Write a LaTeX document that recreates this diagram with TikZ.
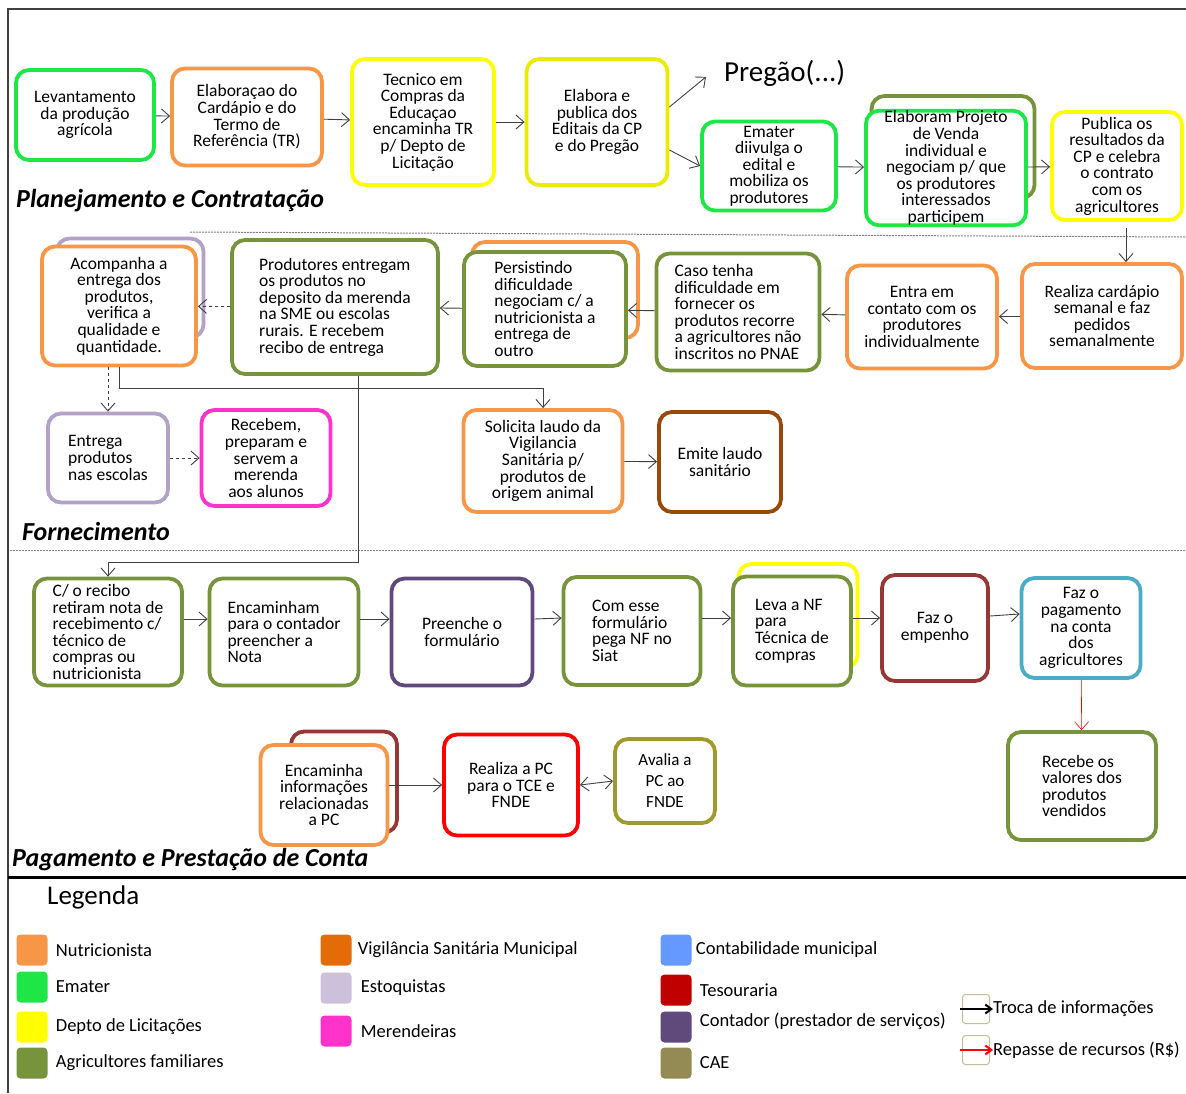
\documentclass[tikz,border=0pt]{standalone}
\usepackage{fontspec}
\setmainfont{Carlito}
\usetikzlibrary{arrows.meta,positioning}

\definecolor{nutri}{HTML}{F79646}
\definecolor{ematerg}{HTML}{1FE647}
\definecolor{licit}{HTML}{FFFF00}
\definecolor{agric}{HTML}{77933C}
\definecolor{estoq}{HTML}{B3A2C7}
\definecolor{estoqleg}{HTML}{CCC0DA}
\definecolor{merend}{HTML}{FF33CC}
\definecolor{vigleg}{HTML}{E36C09}
\definecolor{vigbox}{HTML}{984807}
\definecolor{contleg}{HTML}{6699FF}
\definecolor{contbox}{HTML}{4BACC6}
\definecolor{tesleg}{HTML}{C00000}
\definecolor{tesbox}{HTML}{953735}
\definecolor{contador}{HTML}{604A7B}
\definecolor{caeleg}{HTML}{948A54}
\definecolor{caebox}{HTML}{A09A2C}
\definecolor{pcred}{HTML}{FF0000}
\definecolor{keytan}{HTML}{C4BD97}
\definecolor{linkgray}{HTML}{404040}

\newcommand\boxtxt{\fontsize{17.5}{16.6}\selectfont}

\begin{document}
\begin{tikzpicture}[x=1pt, y=-1pt, >={Straight Barb[length=8pt,width=14pt]},
  box/.style={draw, fill=white, rounded corners=13pt, line width=3.8pt, align=center, inner sep=1pt, font=\boxtxt},
  lbox/.style={box, align=left},
  sz/.style 2 args={minimum width=#1pt, minimum height=#2pt},
  link/.style={->, line width=0.9pt, draw=linkgray},
  sep/.style={draw=gray, line width=1pt, dash pattern=on 2pt off 1pt},
  sectitle/.style={font=\fontsize{26}{28}\selectfont\bfseries\itshape, anchor=base west, inner sep=0pt},
  swatch/.style={rounded corners=4pt, minimum width=31pt, minimum height=31pt, inner sep=0pt},
  legtext/.style={font=\fontsize{18.5}{20}\selectfont, inner sep=0pt, anchor=west},
  keybox/.style={draw=keytan, line width=1pt, rounded corners=3pt, minimum width=27pt, minimum height=29pt, inner sep=0pt}]
\useasboundingbox (0,0) rectangle (1186,1093);

% frame
\draw[line width=2pt, black!75] (8,1093) -- (8,9) -- (1186,9);
\draw[line width=3pt] (8,877) -- (1186,877);
\draw[sep] (190,232) -- (1186,237);
\draw[sep] (10,550) -- (1186,550);

% Planejamento e Contratacao
\node[box, draw=ematerg, sz={138}{90}] (levant) at (85,115) {Levantamento\\da produção\\agrícola};
\node[box, draw=nutri, sz={150}{97}] (cardapio) at (247,117) {Elaboraçao do\\Cardápio e do\\Termo de\\Referência (TR)};
\node[box, draw=licit, sz={142}{126}] (tecnico) at (423,122) {Tecnico em\\Compras  da\\Educaçao\\encaminha  TR\\p/ Depto de\\Licitação};
\node[box, draw=licit!92!black, sz={141}{126}] (edital) at (597,122) {Elabora e\\publica dos\\Editais  da CP\\e do Pregão};
\node[font=\fontsize{29}{31}\selectfont, anchor=base west, inner sep=0pt] (pregao) at (724,81) {Pregão(...)};
\node[box, draw=ematerg, sz={134}{89}] (emater) at (769,166) {Emater\\diivulga o\\edital e\\mobiliza os\\produtores};
\node[box, draw=agric, sz={163}{102}] (projeto_back) at (953,147) {};
\node[box, draw=ematerg, sz={160}{109}, inner sep=0pt] (projeto) at (946,168) {Elaboram Projeto\\de Venda\\individual e\\negociam p/ que\\os produtores\\interessados\\participem};
\node[box, draw=licit, sz={130}{108}] (resultados) at (1117,166) {Publica os\\resultados da\\CP  e celebra\\o contrato\\com os\\agricultores};
\node[sectitle] (tit_plan) at (16,207) {Planejamento e Contratação};

% Fornecimento
\node[box, draw=nutri, sz={160}{104}] (cardsem) at (1102,316) {Realiza cardápio\\semanal e faz\\pedidos\\semanalmente};
\node[box, draw=nutri, sz={150}{103}] (contato) at (922,317) {Entra em\\contato com os\\produtores\\individualmente};
\node[lbox, draw=agric, sz={163}{117}] (caso) at (738,312) {Caso tenha\\dificuldade em\\fornecer os\\produtos recorre\\a agricultores não\\inscritos no PNAE};
\node[box, draw=nutri, sz={166}{96}] (persist_back) at (555,290) {};
\node[lbox, draw=agric, sz={162}{114}] (persist) at (545,309) {Persistindo\\dificuldade\\negociam  c/ a\\nutricionista a\\entrega de\\outro};
\node[lbox, draw=agric, sz={206}{134}] (produtores) at (335,307) {Produtores entregam\\os produtos no\\deposito da merenda\\na SME ou escolas\\rurais. E recebem\\recibo de entrega};
\node[box, draw=estoq, sz={147}{99}] (acomp_back) at (130,288) {};
\node[box, draw=nutri, sz={154}{119}] (acomp) at (119,306) {Acompanha a\\entrega dos\\produtos,\\verifica a\\qualidade e\\quantidade.};
\node[lbox, draw=estoq, sz={120}{89}] (entrega) at (108,458) {Entrega\\produtos\\nas escolas};
\node[box, draw=merend, sz={129}{96}] (recebem) at (266,458) {Recebem,\\preparam  e\\servem a\\merenda\\aos alunos};
\node[box, draw=nutri, sz={159}{102}] (solicita) at (543,461) {Solicita laudo da\\Vigilancia\\Sanitária p/\\produtos de\\origem animal};
\node[box, draw=vigbox, sz={122}{100}] (emite) at (720,462) {Emite laudo\\sanitário};
\node[sectitle] (tit_forn) at (22,540) {Fornecimento};

% Pagamento e Prestacao de Conta
\node[lbox, draw=agric, sz={148}{107}] (recibo) at (108,632) {C/ o recibo\\retiram nota de\\recebimento c/\\técnico de\\compras ou\\nutricionista};
\node[lbox, draw=agric, sz={149}{107}] (encam) at (284,632) {Encaminham\\para o contador\\preencher a\\Nota};
\node[box, draw=contador, sz={141}{107}] (preenche) at (462,632) {Preenche o\\formulário};
\node[lbox, draw=agric, sz={137}{108}] (comesse) at (632,631) {Com esse\\formulário\\pega NF no\\Siat};
\node[box, draw=licit, sz={119}{104}] (leva_back) at (798,616) {};
\node[lbox, draw=agric, sz={118}{109}] (leva) at (792,631) {Leva a NF\\para\\Técnica de\\compras};
\node[box, draw=tesbox, sz={106}{106}] (empenho) at (935,628) {Faz o\\empenho};
\node[box, draw=contbox, sz={119}{100}] (pagam) at (1081,628) {Faz o\\pagamento\\na conta\\dos\\agricultores};
\node[lbox, draw=agric, sz={148}{108}] (recebe) at (1082,786) {Recebe  os\\valores  dos\\produtos\\vendidos};
\node[box, draw=tesbox, sz={106}{101}] (encinfo_back) at (344,782) {};
\node[box, draw=nutri, sz={127}{100}] (encinfo) at (324,795) {Encaminha\\informações\\relacionadas\\a PC};
\node[box, draw=pcred, sz={134}{101}] (realizapc) at (511,785) {Realiza a PC\\para o TCE e\\FNDE};
\node[box, draw=caebox, sz={100}{84}, font=\fontsize{17}{21}\selectfont] (avalia) at (665,781) {Avalia a\\PC ao\\FNDE};
\node[sectitle] (tit_pag) at (12,866) {Pagamento e Prestação de Conta};

% connectors
\draw[link] (levant) -- (cardapio);
\draw[link] (cardapio) -- (tecnico);
\draw[link] (tecnico) -- (edital);
\draw[link] ([yshift=15pt]edital.east) -- ([xshift=-18pt,yshift=-4pt]pregao.west);
\draw[link] ([yshift=-28pt]edital.east) -- (emater.west);
\draw[link] (emater) -- (projeto);
\draw[link] (projeto) -- (resultados);
\draw[link] ([xshift=9pt,yshift=-6pt]resultados.south) -- ([xshift=9pt]resultados.south |- cardsem.north);
\draw[link] (cardsem) -- (contato);
\draw[link] (contato) -- (caso);
\draw[link] (caso) -- (persist);
\draw[link] (persist) -- (produtores);
\draw[link, dashed] (produtores) -- (acomp);
\draw[link, dashed] (acomp.south -| entrega.north) -- (entrega.north);
\draw[link, dashed] (entrega) -- (recebem);
\draw[link] (acomp.south) -- ++(0,21) -| (solicita.north);
\draw[link] (solicita) -- (emite);
\coordinate (bend_pag) at (358,562);
\draw[link] ([xshift=23pt]produtores.south) -- (bend_pag) -| (recibo.north);
\draw[link] ([yshift=13pt]recibo.east) -- ([yshift=13pt]encam.west);
\draw[link] ([yshift=13pt]encam.east) -- ([yshift=13pt]preenche.west);
\draw[link] ([yshift=13pt]preenche.east) -- ([yshift=13pt]comesse.west);
\draw[link] ([yshift=13pt]comesse.east) -- ([yshift=13pt]leva.west);
\draw[link] ([yshift=13pt]leva.east) -- ([yshift=10pt]empenho.west);
\draw[link] ([yshift=12pt]empenho.east) -- ([yshift=14pt]pagam.west);
\draw[link, draw=pcred, line width=0.6pt] (pagam) -- (recebe);
\draw[link] (encinfo.east |- realizapc) -- (realizapc.west);
\draw[link, <->] (realizapc.east) -- (avalia.west);

% Legenda
\node[font=\fontsize{27}{29}\selectfont, anchor=base west, inner sep=0pt] (legenda) at (47,904) {Legenda};
\node[swatch, fill=nutri] (sw_nutri) at (32,950) {};
\node[swatch, fill=ematerg] (sw_emater) at (32,987) {};
\node[swatch, fill=licit] (sw_licit) at (32,1027) {};
\node[swatch, fill=agric] (sw_agric) at (32,1063) {};
\node[legtext, right=8pt of sw_nutri] {Nutricionista};
\node[legtext, right=8pt of sw_emater] {Emater};
\node[legtext, right=8pt of sw_licit] {Depto de Licitações};
\node[legtext, right=8pt of sw_agric] {Agricultores familiares};
\node[swatch, fill=vigleg] (sw_vig) at (336,950) {};
\node[swatch, fill=estoqleg] (sw_estoq) at (336,988) {};
\node[swatch, fill=merend] (sw_merend) at (336,1031) {};
\node[legtext, right=6pt of sw_vig] {Vigilância Sanitária Municipal};
\node[legtext, right=9pt of sw_estoq] {Estoquistas};
\node[legtext, right=9pt of sw_merend] {Merendeiras};
\node[swatch, fill=contleg] (sw_cont) at (676,950) {};
\node[swatch, fill=tesleg] (sw_tes) at (676,990) {};
\node[swatch, fill=contador] (sw_contador) at (676,1027) {};
\node[swatch, fill=caeleg] (sw_cae) at (676,1063) {};
\node[legtext, right=4pt of sw_cont] {Contabilidade municipal};
\node[legtext, right=8pt of sw_tes] {Tesouraria};
\node[legtext, right=8pt of sw_contador, yshift=6pt] {Contador (prestador de serviços)};
\node[legtext, right=8pt of sw_cae] {CAE};
\node[keybox] (key_info) at (976,1009) {};
\node[keybox] (key_rs) at (976,1050) {};
\draw[-{Straight Barb[length=6pt,width=9pt]}, line width=2pt] ([xshift=-2pt]key_info.west) -- ([xshift=3pt]key_info.east);
\draw[-{Straight Barb[length=6pt,width=9pt]}, line width=2pt, draw=pcred] ([xshift=-2pt]key_rs.west) -- ([xshift=3pt]key_rs.east);
\node[legtext, right=3pt of key_info] {Troca de informações};
\node[legtext, right=3pt of key_rs] {Repasse de recursos (R\$)};
\end{tikzpicture}
\end{document}
